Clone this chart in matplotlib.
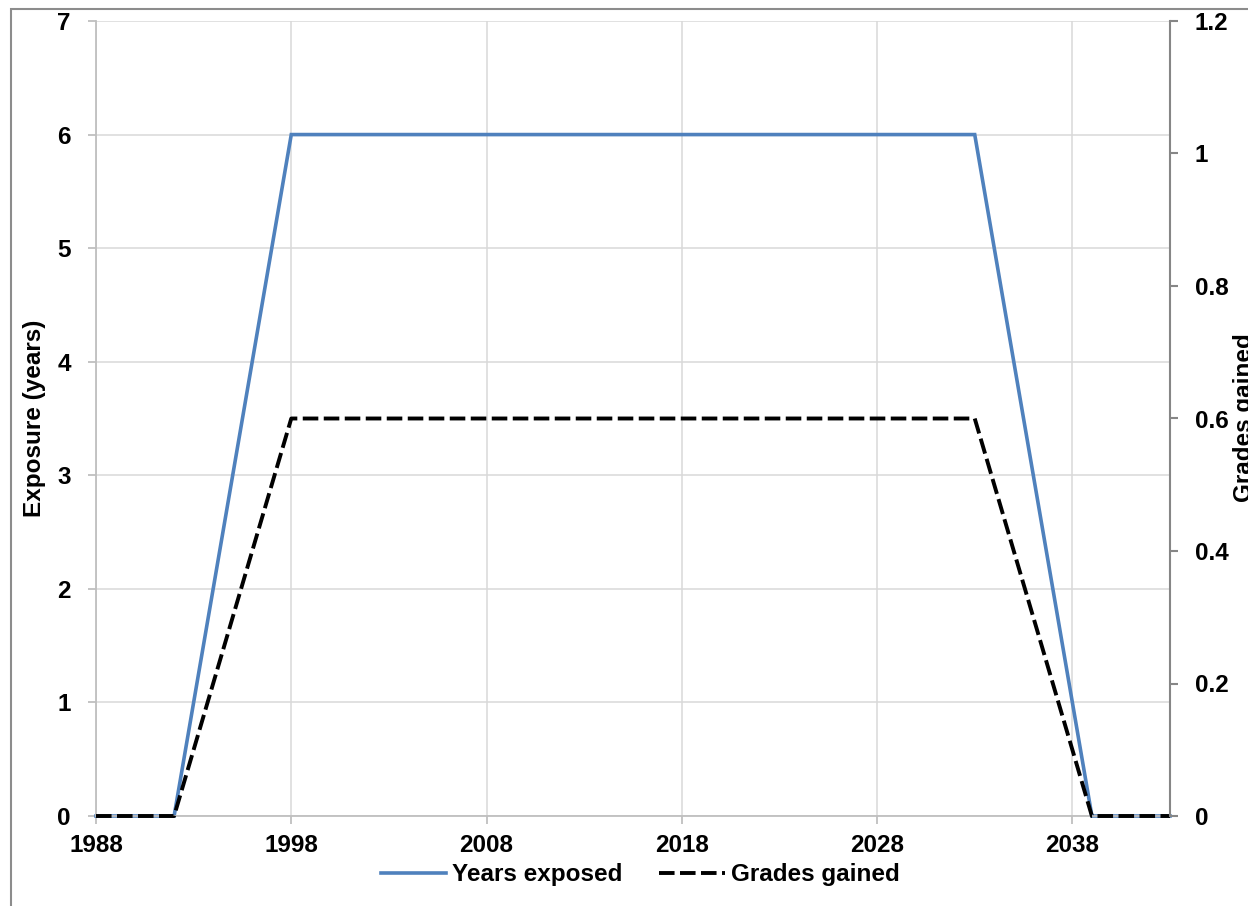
import matplotlib
matplotlib.use("Agg")
import matplotlib.pyplot as plt
from matplotlib.ticker import FuncFormatter, MultipleLocator, FixedLocator
from matplotlib.patches import Rectangle

plt.rcParams['font.family'] = ['Liberation Sans', 'DejaVu Sans']
plt.rcParams['font.weight'] = 'bold'

# data
years = [1988, 1992, 1998, 2033, 2039, 2043]
years_exposed = [0, 0, 6, 6, 0, 0]
grades_gained = [0, 0, 0.6, 0.6, 0, 0]
xticks = [1988, 1998, 2008, 2018, 2028, 2038]

W, H = 1248, 906
fig = plt.figure(figsize=(W / 100, H / 100), dpi=100)

# outer chart border (cut off on right / bottom in the reference)
fig.patches.append(Rectangle((11 / W, -0.1), 1.2, 1 - 9 / H + 0.1,
                             transform=fig.transFigure, fill=False,
                             edgecolor='#8c8c8c', lw=1.5))

ax = fig.add_axes([96 / W, 1 - 816 / H, (1170 - 96) / W, (816 - 21) / H])
ax2 = ax.twinx()

fs = 17.5
ax.plot(years, years_exposed, color='#4f81bd', lw=2.6, clip_on=False,
        label='Years exposed', solid_joinstyle='miter')
ax2.plot(years, grades_gained, color='black', lw=2.8, clip_on=False,
         dashes=(4.0, 1.4), label='Grades gained')

ax.set_xlim(1988, 2043)
ax.set_ylim(0, 7)
ax2.set_ylim(0, 1.2)
ax.xaxis.set_major_locator(FixedLocator(xticks))
ax.yaxis.set_major_locator(MultipleLocator(1))
ax2.yaxis.set_major_locator(MultipleLocator(0.2))
ax2.yaxis.set_major_formatter(FuncFormatter(lambda v, p: '{:g}'.format(round(v, 2))))

ax.grid(True, color='#d9d9d9', lw=1.1)
ax.set_axisbelow(True)

ax.spines['top'].set_visible(False)
ax2.spines['top'].set_visible(False)
ax2.spines['left'].set_visible(False)
ax2.spines['bottom'].set_visible(False)
ax.spines['right'].set_visible(False)
ax.spines['left'].set_color('#bfbfbf')
ax.spines['bottom'].set_color('#bfbfbf')
ax.spines['left'].set_linewidth(1.3)
ax.spines['bottom'].set_linewidth(1.3)
ax2.spines['right'].set_color('#868686')
ax2.spines['right'].set_linewidth(1.5)

ax.tick_params(axis='both', length=6, width=1.3, color='#bfbfbf',
               labelsize=fs)
ax.tick_params(axis='x', pad=7)
ax.tick_params(axis='y', pad=12)
ax2.tick_params(axis='y', length=6, width=1.5, color='#868686',
                labelsize=fs, pad=12)
for lab in ax.get_xticklabels() + ax.get_yticklabels() + ax2.get_yticklabels():
    lab.set_fontweight('bold')

fig.text(35 / W, 1 - 418 / H, 'Exposure (years)', rotation=90,
         ha='center', va='center', fontsize=fs, fontweight='bold')
fig.text(1244 / W, 1 - 418 / H, 'Grades gained', rotation=90,
         ha='center', va='center', fontsize=fs, fontweight='bold')

h1, l1 = ax.get_legend_handles_labels()
h2, l2 = ax2.get_legend_handles_labels()
fig.legend(h1 + h2, l1 + l2, loc='center', bbox_to_anchor=(640 / W, 1 - 875 / H),
           ncol=2, frameon=False, handlelength=2.7,
           handletextpad=0.25, columnspacing=1.5,
           prop={'weight': 'bold', 'size': fs})

fig.savefig('out.png', dpi=100)
